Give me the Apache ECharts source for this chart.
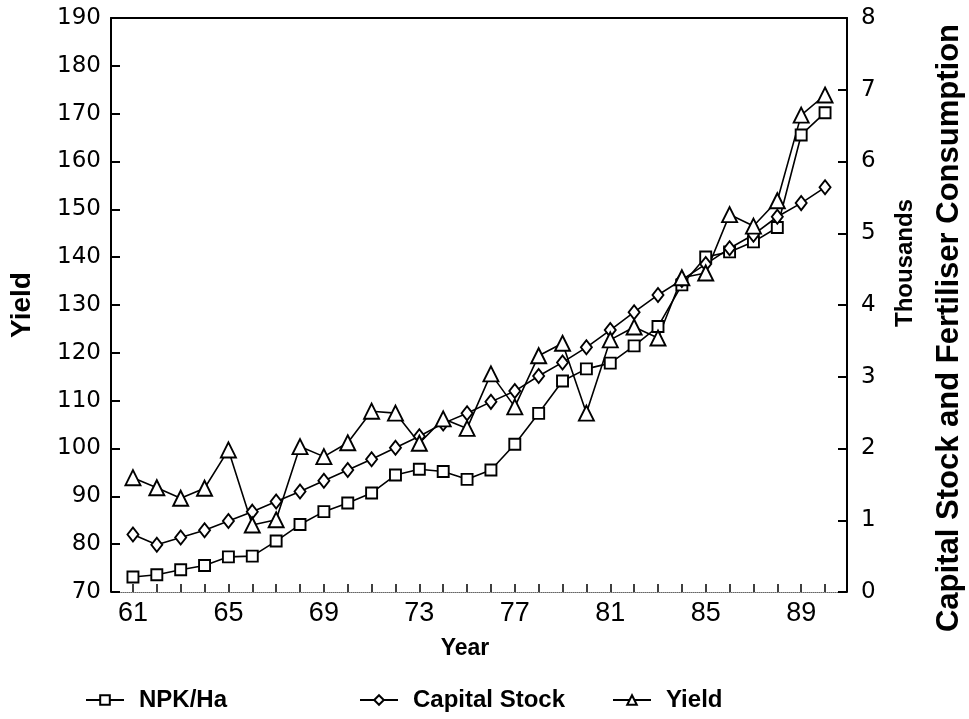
<!DOCTYPE html>
<html>
<head>
<meta charset="utf-8">
<script src="https://cdn.jsdelivr.net/npm/echarts@6/dist/echarts.min.js"></script>
<style>
  html, body { margin: 0; padding: 0; background: #fff; }
  #chart { width: 969px; height: 719px; }
</style>
</head>
<body>
<div id="chart"></div>
<script>
var years = [61,62,63,64,65,66,67,68,69,70,71,72,73,74,75,76,77,78,79,80,81,82,83,84,85,86,87,88,89,90];
var xTickLabels = [61,65,69,73,77,81,85,89];
var npkHa = [0.21,0.24,0.31,0.37,0.49,0.50,0.71,0.94,1.12,1.24,1.38,1.63,1.71,1.68,1.57,1.70,2.06,2.49,2.94,3.11,3.19,3.43,3.70,4.28,4.67,4.74,4.88,5.08,6.37,6.68];
var capitalStock = [0.80,0.66,0.76,0.86,0.99,1.12,1.26,1.40,1.55,1.70,1.85,2.01,2.17,2.35,2.49,2.65,2.80,3.01,3.20,3.41,3.65,3.90,4.14,4.35,4.57,4.79,4.98,5.23,5.42,5.64];
var yieldVals = [93.9,91.8,89.6,91.7,99.7,84.0,85.1,100.4,98.3,101.2,107.8,107.4,101.1,106.2,104.2,115.6,108.7,119.4,122.0,107.4,122.7,125.4,123.1,135.7,136.7,148.9,146.5,151.8,169.7,173.9];

function pairs(vals) { return years.map(function (y, i) { return [y, vals[i]]; }); }

var tickFont = 'DejaVu Sans';
var titleFont = 'Liberation Sans';

var chart = echarts.init(document.getElementById('chart'), null, { renderer: 'canvas' });

function lineSeries(name, symbol, size, vals, yIdx) {
  return {
    name: name,
    type: 'line',
    xAxisIndex: 0,
    yAxisIndex: yIdx,
    data: pairs(vals),
    symbol: symbol,
    symbolSize: size,
    showAllSymbol: true,
    lineStyle: { color: '#000', width: 1.6 },
    itemStyle: { color: '#fff', borderColor: '#000', borderWidth: 1.9 },
    emphasis: { disabled: true },
    animation: false
  };
}

function legendAt(name, left) {
  return {
    data: [name],
    left: left,
    top: 683,
    itemWidth: 38,
    itemHeight: 12,
    textStyle: { fontFamily: titleFont, fontWeight: 'bold', fontSize: 24, color: '#000', padding: [0, 0, 0, 10] },
    selectedMode: false
  };
}

chart.setOption({
  animation: false,
  backgroundColor: '#fff',
  grid: { left: 111, right: 122, top: 18, bottom: 127, containLabel: false },
  xAxis: [{
    type: 'value',
    min: 60.08,
    max: 90.92,
    position: 'bottom',
    name: 'Year',
    nameLocation: 'middle',
    nameGap: 45,
    nameTextStyle: { fontFamily: titleFont, fontWeight: 'bold', fontSize: 23, color: '#000', padding: [0, 28, 0, 0] },
    axisLine: { show: true, lineStyle: { color: '#666', width: 1, type: 'dotted' } },
    axisTick: { show: true, inside: true, length: 8, customValues: years, lineStyle: { color: '#000', width: 1.5 } },
    axisLabel: { show: true, customValues: xTickLabels, fontFamily: titleFont, fontSize: 27, color: '#000', margin: 8 },
    splitLine: { show: false }
  }, {
    type: 'value',
    min: 60.08,
    max: 90.92,
    position: 'top',
    axisLine: { show: true, lineStyle: { color: '#000', width: 2 } },
    axisTick: { show: false },
    axisLabel: { show: false },
    splitLine: { show: false }
  }],
  yAxis: [{
    type: 'value',
    min: 70,
    max: 190,
    interval: 10,
    position: 'left',
    name: 'Yield',
    nameLocation: 'middle',
    nameRotate: 90,
    nameGap: 75,
    nameTextStyle: { fontFamily: titleFont, fontWeight: 'bold', fontSize: 28, color: '#000' },
    axisLine: { show: true, lineStyle: { color: '#000', width: 2 } },
    axisTick: { show: true, inside: true, length: 9, lineStyle: { color: '#000', width: 2 } },
    axisLabel: { fontFamily: tickFont, fontSize: 23, color: '#000', margin: 10 },
    splitLine: { show: false }
  }, {
    type: 'value',
    min: 0,
    max: 8,
    interval: 1,
    position: 'right',
    axisLine: { show: true, lineStyle: { color: '#000', width: 2 } },
    axisTick: { show: true, inside: true, length: 9, lineStyle: { color: '#000', width: 2 } },
    axisLabel: { fontFamily: tickFont, fontSize: 23, color: '#000', margin: 14 },
    splitLine: { show: false }
  }],
  legend: [
    legendAt('NPK/Ha', 80),
    legendAt('Capital Stock', 354),
    legendAt('Yield', 607)
  ],
  graphic: [{
    type: 'text',
    x: 905,
    y: 263,
    rotation: Math.PI / 2,
    style: {
      text: 'Thousands',
      fontFamily: titleFont,
      fontWeight: 'bold',
      fontSize: 24,
      fill: '#000',
      align: 'center',
      verticalAlign: 'middle'
    }
  }, {
    type: 'text',
    x: 949,
    y: 328,
    rotation: Math.PI / 2,
    style: {
      text: 'Capital Stock and Fertiliser Consumption',
      fontFamily: titleFont,
      fontWeight: 'bold',
      fontSize: 31,
      fill: '#000',
      align: 'center',
      verticalAlign: 'middle'
    }
  }],
  series: [
    lineSeries('NPK/Ha', 'rect', 11, npkHa, 1),
    lineSeries('Capital Stock', 'diamond', [11, 14], capitalStock, 1),
    lineSeries('Yield', 'triangle', 15, yieldVals, 0)
  ]
});
</script>
</body>
</html>
